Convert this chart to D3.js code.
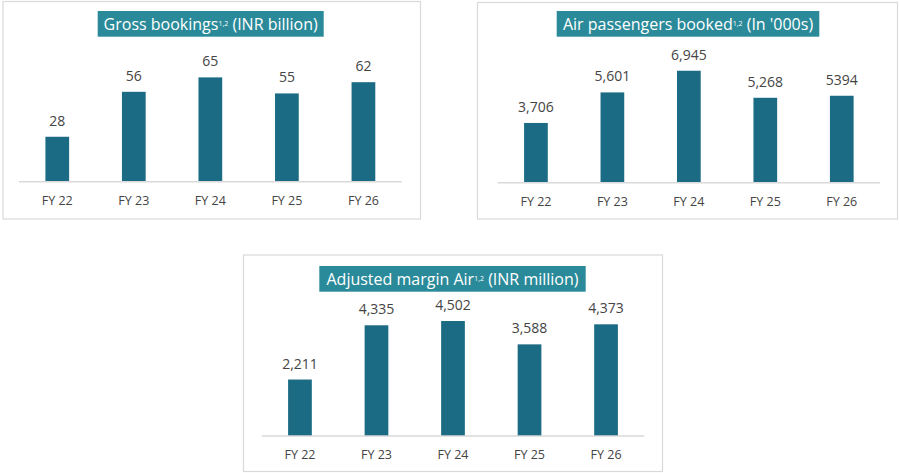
<!DOCTYPE html>
<html>
<head>
<meta charset="utf-8">
<script src="https://cdn.jsdelivr.net/npm/d3@7"></script>
<style>
  html, body { margin: 0; padding: 0; background: #ffffff; }
  svg { display: block; font-family: "Open Sans", "Noto Sans", sans-serif; }
</style>
</head>
<body>
<svg id="chart" width="899" height="473"></svg>
<script>
// ---- Data ----
const categories = ["FY 22", "FY 23", "FY 24", "FY 25", "FY 26"];

const grossBookings = [28, 56, 65, 55, 62];
const grossLabels = ["28", "56", "65", "55", "62"];

const airPassengers = [3706, 5601, 6945, 5268, 5394];
const airPassengerLabels = ["3,706", "5,601", "6,945", "5,268", "5394"];

const adjustedMargin = [2211, 4335, 4502, 3588, 4373];
const adjustedMarginLabels = ["2,211", "4,335", "4,502", "3,588", "4,373"];

const titles = [
  { main: "Gross bookings", sup: "1,2", rest: " (INR billion)" },
  { main: "Air passengers booked", sup: "1,2", rest: " (In '000s)" },
  { main: "Adjusted margin Air", sup: "1,2", rest: " (INR million)" }
];

// ---- Layout ----
const BAR_COLOR = "#1b6b84";
const TITLE_BG = "#2a8a99";
const TEXT_COLOR = "#444444";
const GRID_COLOR = "#d9d9d9";

const panels = [
  { values: grossBookings, labels: grossLabels, title: titles[0],
    box: [3, 1.5, 417.5, 217.5], titleBox: [97.7, 11, 226, 25.7],
    axisX: [19, 401.7], baseY: 181.7, domainMax: 70, pxPerUnit: 1.605 },
  { values: airPassengers, labels: airPassengerLabels, title: titles[1],
    box: [477.5, 2.5, 420, 216.5], titleBox: [556.7, 11, 262.6, 25.7],
    axisX: [497.7, 880], baseY: 182.7, domainMax: 8000, pxPerUnit: 0.01612 },
  { values: adjustedMargin, labels: adjustedMarginLabels, title: titles[2],
    box: [243.5, 255, 419, 216.5], titleBox: [319.3, 266, 266.4, 25.7],
    axisX: [261.7, 644.3], baseY: 436, domainMax: 5000, pxPerUnit: 0.02554 }
];

const svg = d3.select("#chart");

panels.forEach(p => {
  const g = svg.append("g");

  // panel border
  g.append("rect")
    .attr("x", p.box[0]).attr("y", p.box[1])
    .attr("width", p.box[2]).attr("height", p.box[3])
    .attr("fill", "#ffffff")
    .attr("stroke", GRID_COLOR).attr("stroke-width", 1.2);

  // title box
  g.append("rect")
    .attr("x", p.titleBox[0]).attr("y", p.titleBox[1])
    .attr("width", p.titleBox[2]).attr("height", p.titleBox[3])
    .attr("fill", TITLE_BG);

  const t = g.append("text")
    .attr("x", p.titleBox[0] + p.titleBox[2] / 2)
    .attr("y", p.titleBox[1] + p.titleBox[3] / 2 + 5.8)
    .attr("text-anchor", "middle")
    .attr("fill", "#ffffff")
    .attr("font-size", 16);
  t.append("tspan").text(p.title.main);
  t.append("tspan").attr("font-size", 7).attr("dy", -4).text(p.title.sup);
  t.append("tspan").attr("dy", 4).text(p.title.rest);

  // scales
  const x = d3.scaleBand()
    .domain(categories)
    .range(p.axisX)
    .paddingInner(0.69)
    .paddingOuter(0.345);

  const y = d3.scaleLinear()
    .domain([0, p.domainMax])
    .range([p.baseY, p.baseY - p.domainMax * p.pxPerUnit]);

  const data = categories.map((c, i) => ({ cat: c, v: p.values[i], label: p.labels[i] }));

  // bars
  g.selectAll("rect.bar")
    .data(data)
    .enter().append("rect")
    .attr("class", "bar")
    .attr("x", d => x(d.cat))
    .attr("width", x.bandwidth())
    .attr("y", d => y(d.v))
    .attr("height", d => y(0) - y(d.v))
    .attr("fill", BAR_COLOR);

  // x axis
  const axis = g.append("g")
    .attr("transform", `translate(0,${y(0)})`)
    .call(d3.axisBottom(x).tickSize(0).tickPadding(0).tickSizeOuter(0));
  axis.select(".domain")
    .attr("stroke", GRID_COLOR).attr("stroke-width", 1.5)
    .attr("d", `M${p.axisX[0]},0H${p.axisX[1]}`);
  axis.selectAll(".tick text")
    .attr("font-family", "\"Open Sans\", \"Noto Sans\", sans-serif")
    .attr("font-size", 12.5)
    .attr("fill", TEXT_COLOR)
    .attr("dy", 0)
    .attr("y", 23);

  // value labels
  g.selectAll("text.val")
    .data(data)
    .enter().append("text")
    .attr("class", "val")
    .attr("x", d => x(d.cat) + x.bandwidth() / 2)
    .attr("y", d => y(d.v) - 11)
    .attr("text-anchor", "middle")
    .attr("font-size", 14)
    .attr("fill", TEXT_COLOR)
    .text(d => d.label);
});
</script>
</body>
</html>
